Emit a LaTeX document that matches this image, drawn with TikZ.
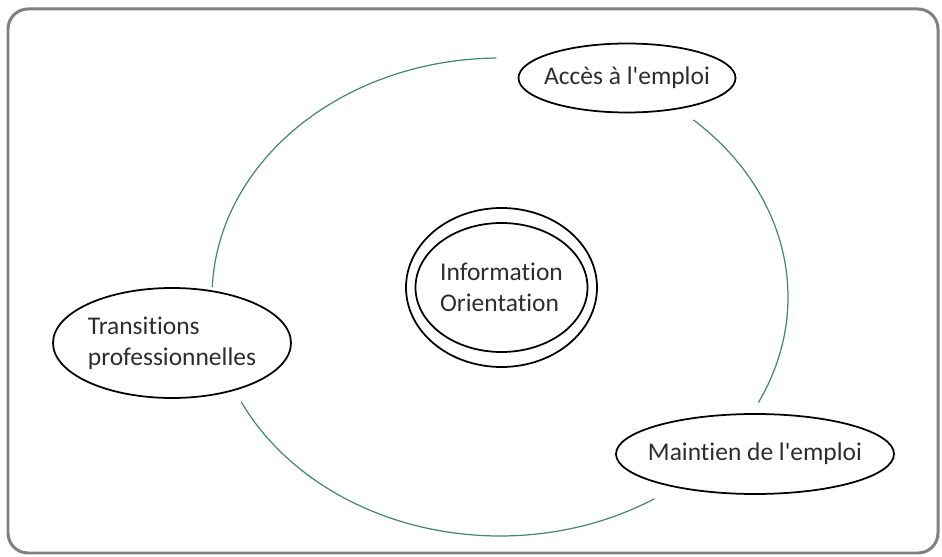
\documentclass[tikz,border=0pt]{standalone}
\usepackage{fontspec}
\setmainfont{Carlito}[Ligatures=NoCommon]
\usepackage{tikz}
\usetikzlibrary{shapes.geometric}
\usetikzlibrary{calc}
\definecolor{cycle-green}{RGB}{70,135,110}
\definecolor{frame-gray}{RGB}{128,128,128}
\definecolor{text-gray}{RGB}{45,45,45}
\tikzset{
%%%%%%%%%%  Node styles
%% negative xsep so that the ellipse keeps its minimum size round long text
bubble/.style={ellipse, draw=black, line width=1pt, fill=white,
               inner xsep=-0.3cm, inner ysep=0pt,
               text=text-gray, font=\fontsize{14.5}{17.5}\selectfont},
%%%% line styles
cycle_arc/.style={draw=cycle-green, line width=0.7pt},
frame_box/.style={draw=frame-gray, line width=1.7pt, rounded corners=0.4cm}
}

\begin{document}
\begin{tikzpicture}
\useasboundingbox (0,0) rectangle (18.84,11.14);
%% outer frame
\draw[frame_box] (0.16,0.08) rectangle (18.76,10.96);
%% the cycle
\coordinate (cyc) at (10.0,5.2);
\draw[cycle_arc] ([shift={(90.7:5.76cm and 4.78cm)}]cyc)
	arc[start angle=90.7, end angle=177.6, x radius=5.76cm, y radius=4.78cm];
\draw[cycle_arc] ([shift={(206:5.76cm and 4.78cm)}]cyc)
	arc[start angle=206, end angle=302.4, x radius=5.76cm, y radius=4.78cm];
\draw[cycle_arc] ([shift={(-26.2:5.76cm and 4.78cm)}]cyc)
	arc[start angle=-26.2, end angle=47.8, x radius=5.76cm, y radius=4.78cm];
%% the four stages
\node[bubble, minimum width=4.34cm, minimum height=1.38cm] (acces) at (12.54,9.58)
	{Accès à l\textquotesingle emploi};
\node[bubble, minimum width=4.76cm, minimum height=2.2cm, align=left] (trans) at (3.44,4.28)
	{Transitions\\professionnelles};
\node[bubble, minimum width=5.56cm, minimum height=1.6cm] (maintien) at (15.1,2.06)
	{Maintien de l\textquotesingle emploi};
%% centre, double ring
\node[bubble, minimum width=3.82cm, minimum height=3.18cm] (info_out) at (10.03,5.39) {};
\node[bubble, minimum width=3.44cm, minimum height=2.58cm, align=left] (info) at (info_out)
	{Information\\Orientation};
\end{tikzpicture}
\end{document}
